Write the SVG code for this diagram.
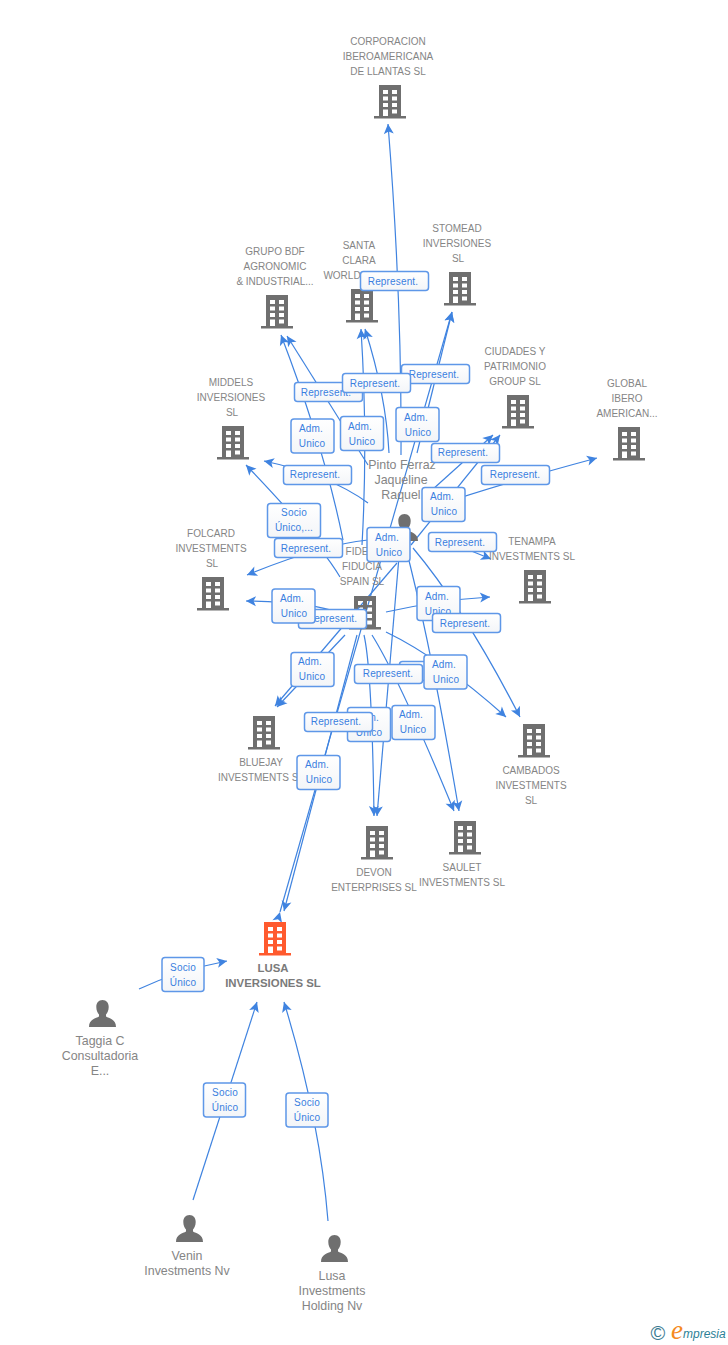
<svg xmlns="http://www.w3.org/2000/svg" width="728" height="1345" viewBox="0 0 728 1345">
<style>
.n{font-family:"Liberation Sans",Arial,sans-serif;font-size:10px;fill:#858585;text-anchor:middle}
.p{font-size:12.400px}
.b{font-family:"Liberation Sans",Arial,sans-serif;font-size:11.400px;font-weight:bold;fill:#7a7a7a;text-anchor:middle}
.c{fill:none;stroke:#3f83e0;stroke-width:1.2;marker-end:url(#ah)}
.r{fill:url(#lg);stroke:#5e97e8;stroke-width:1.5}
.t{font-family:"Liberation Sans",Arial,sans-serif;font-size:10px;letter-spacing:.15px;fill:#3a7fe0;text-anchor:middle}
</style>
<defs>
<marker id="ah" markerUnits="userSpaceOnUse" markerWidth="12" markerHeight="12" refX="10" refY="5" orient="auto" overflow="visible"><path d="M10,5 L0,0 L2.5,5 L0,10 Z" fill="#3f83e0"/></marker>
<linearGradient id="lg" x1="0" y1="0" x2="0" y2="1"><stop offset="0" stop-color="#fff"/><stop offset="1" stop-color="#f3f5f8"/></linearGradient>
<g id="bd"><path fill-rule="evenodd" d="M5,0H27V31H32V33.5H0V31H5ZM9,5V9H14V5ZM18,5V9H23V5ZM9,11.500V15.500H14V11.500ZM18,11.500V15.500H23V11.500ZM9,18V22H14V18ZM18,18V22H23V18ZM9,24.500V31H14V24.500ZM18,24.500V28.500H23V24.500Z"/></g>
<g id="pr"><path d="M13.500,0C17.500,0 19.700,3 19.700,7C19.700,10.500 18.300,13 17,14.500V16.500C20,18.500 27,19 27,27H0C0,19 7,18.500 10,16.500V14.500C8.700,13 7.300,10.500 7.300,7C7.300,3 9.500,0 13.500,0Z"/></g>
</defs>
<rect width="728" height="1345" fill="#fff"/>
<g id="connectors">
<path class="c" d="M401,455Q402,300 388,124"/>
<path class="c" d="M343,540Q325,450 281,335"/>
<path class="c" d="M368,465L287,336"/>
<path class="c" d="M362,545Q368,440 361,329"/>
<path class="c" d="M389,453Q386,395 365,329"/>
<path class="c" d="M280,912L452,312" style="marker-start:url(#ah)"/>
<path class="c" d="M417,453L452,312"/>
<path class="c" d="M357,635L284,911"/>
<path class="c" d="M411,545L500,435"/>
<path class="c" d="M432,490L493,435"/>
<path class="c" d="M432,507Q500,484 597,458"/>
<path class="c" d="M340,577Q318,540 246,465"/>
<path class="c" d="M368,503Q330,475 264,461"/>
<path class="c" d="M368,540Q320,545 247,575"/>
<path class="c" d="M340,613Q310,602 246,601"/>
<path class="c" d="M345,635L277,707"/>
<path class="c" d="M397,563L275,706"/>
<path class="c" d="M364,635Q372,670 374,816"/>
<path class="c" d="M400,545L377,816"/>
<path class="c" d="M372,635Q400,680 454,811"/>
<path class="c" d="M405,545Q430,640 459,811"/>
<path class="c" d="M386,612Q440,600 490,597"/>
<path class="c" d="M432,535L491,559"/>
<path class="c" d="M386,632Q440,658 506,717"/>
<path class="c" d="M413,548Q465,610 520,717"/>
<path class="c" d="M139,989Q180,970 227,961"/>
<path class="c" d="M193,1200L257,1002"/>
<path class="c" d="M328,1221Q320,1120 284,1002"/>
</g>
<g id="node-corporacion"><use href="#bd" x="374" y="85" fill="#6f6f6f"/><text class="n"><tspan x="388" y="45">CORPORACION</tspan><tspan x="388" y="60">IBEROAMERICANA</tspan><tspan x="388" y="75">DE LLANTAS SL</tspan></text></g>
<g id="node-grupo"><use href="#bd" x="261" y="295" fill="#6f6f6f"/><text class="n"><tspan x="275" y="255">GRUPO BDF</tspan><tspan x="275" y="270">AGRONOMIC</tspan><tspan x="275" y="285">&amp; INDUSTRIAL...</tspan></text></g>
<g id="node-santa"><use href="#bd" x="346" y="289" fill="#6f6f6f"/><text class="n"><tspan x="359" y="249">SANTA</tspan><tspan x="359" y="264">CLARA</tspan><tspan x="342" y="279">WORLD</tspan></text></g>
<g id="node-stomead"><use href="#bd" x="444" y="272" fill="#6f6f6f"/><text class="n"><tspan x="457" y="232">STOMEAD</tspan><tspan x="457" y="247">INVERSIONES</tspan><tspan x="458" y="262">SL</tspan></text></g>
<g id="node-middels"><use href="#bd" x="217" y="426" fill="#6f6f6f"/><text class="n"><tspan x="231" y="386">MIDDELS</tspan><tspan x="231" y="401">INVERSIONES</tspan><tspan x="232" y="416">SL</tspan></text></g>
<g id="node-ciudades"><use href="#bd" x="502" y="395" fill="#6f6f6f"/><text class="n"><tspan x="515" y="355">CIUDADES Y</tspan><tspan x="515" y="370">PATRIMONIO</tspan><tspan x="515" y="385">GROUP SL</tspan></text></g>
<g id="node-global"><use href="#bd" x="613" y="427" fill="#6f6f6f"/><text class="n"><tspan x="627" y="387">GLOBAL</tspan><tspan x="627" y="402">IBERO</tspan><tspan x="627" y="417">AMERICAN...</tspan></text></g>
<g id="node-tenampa"><use href="#bd" x="519" y="570" fill="#6f6f6f"/><text class="n"><tspan x="532" y="545">TENAMPA</tspan><tspan x="532" y="560">INVESTMENTS SL</tspan></text></g>
<g id="node-folcard"><use href="#bd" x="197" y="577" fill="#6f6f6f"/><text class="n"><tspan x="211" y="537">FOLCARD</tspan><tspan x="211" y="552">INVESTMENTS</tspan><tspan x="212" y="567">SL</tspan></text></g>
<g id="node-fiducia"><use href="#bd" x="349" y="596" fill="#6f6f6f"/><text class="n"><tspan x="357" y="555">FIDE</tspan><tspan x="362" y="570">FIDUCIA</tspan><tspan x="362" y="585">SPAIN SL</tspan></text></g>
<g id="node-bluejay"><use href="#bd" x="248" y="716" fill="#6f6f6f"/><text class="n"><tspan x="261" y="766">BLUEJAY</tspan><tspan x="261" y="781">INVESTMENTS SL</tspan></text></g>
<g id="node-devon"><use href="#bd" x="361" y="826" fill="#6f6f6f"/><text class="n"><tspan x="374" y="876">DEVON</tspan><tspan x="374" y="891">ENTERPRISES SL</tspan></text></g>
<g id="node-saulet"><use href="#bd" x="449" y="821" fill="#6f6f6f"/><text class="n"><tspan x="462" y="871">SAULET</tspan><tspan x="462" y="886">INVESTMENTS SL</tspan></text></g>
<g id="node-cambados"><use href="#bd" x="518" y="724" fill="#6f6f6f"/><text class="n"><tspan x="531" y="774">CAMBADOS</tspan><tspan x="531" y="789">INVESTMENTS</tspan><tspan x="531" y="804">SL</tspan></text></g>
<g id="node-lusa"><use href="#bd" x="259" y="922" fill="#ff5a2e"/><text class="b"><tspan x="273" y="972">LUSA</tspan><tspan x="273" y="987">INVERSIONES SL</tspan></text></g>
<g id="node-pinto"><use href="#pr" x="391" y="514" fill="#6f6f6f"/><text class="n p"><tspan x="402" y="469">Pinto Ferraz</tspan><tspan x="401" y="484">Jaqueline</tspan><tspan x="401" y="499">Raquel</tspan></text></g>
<g id="node-taggia"><use href="#pr" x="89" y="1000" fill="#6f6f6f"/><text class="n p"><tspan x="100" y="1045">Taggia C</tspan><tspan x="100" y="1060">Consultadoria</tspan><tspan x="100" y="1075">E...</tspan></text></g>
<g id="node-venin"><use href="#pr" x="176" y="1215" fill="#6f6f6f"/><text class="n p"><tspan x="187" y="1260">Venin</tspan><tspan x="187" y="1275">Investments Nv</tspan></text></g>
<g id="node-lusa-investments"><use href="#pr" x="321" y="1235" fill="#6f6f6f"/><text class="n p"><tspan x="332" y="1280">Lusa</tspan><tspan x="332" y="1295">Investments</tspan><tspan x="332" y="1310">Holding Nv</tspan></text></g>
<g id="edge-labels">
<g><rect class="r" x="294.500" y="382.500" width="68" height="19" rx="3"/><text class="t" x="326" y="396">Represent.</text></g>
<g><rect class="r" x="401.500" y="364.500" width="68" height="19" rx="3"/><text class="t" x="434" y="378">Represent.</text></g>
<g><rect class="r" x="360.500" y="271.500" width="68" height="19" rx="3"/><text class="t" x="393" y="285">Represent.</text></g>
<g><rect class="r" x="342.500" y="373.500" width="68" height="19" rx="3"/><text class="t" x="375" y="387">Represent.</text></g>
<g><rect class="r" x="291" y="419" width="43" height="34" rx="3"/><text class="t"><tspan x="311" y="432">Adm.</tspan><tspan x="312" y="447">Unico</tspan></text></g>
<g><rect class="r" x="340.500" y="416.500" width="43" height="34" rx="3"/><text class="t"><tspan x="360" y="430">Adm.</tspan><tspan x="362" y="445">Unico</tspan></text></g>
<g><rect class="r" x="396" y="407.500" width="43" height="34" rx="3"/><text class="t"><tspan x="416" y="421">Adm.</tspan><tspan x="418" y="436">Unico</tspan></text></g>
<g><rect class="r" x="431.500" y="443.500" width="68" height="19" rx="3"/><text class="t" x="463" y="456">Represent.</text></g>
<g><rect class="r" x="422" y="487.500" width="43" height="34" rx="3"/><text class="t"><tspan x="442" y="500">Adm.</tspan><tspan x="444" y="515">Unico</tspan></text></g>
<g><rect class="r" x="481.500" y="465.500" width="68" height="19" rx="3"/><text class="t" x="515" y="478">Represent.</text></g>
<g><rect class="r" x="283.500" y="465.500" width="68" height="19" rx="3"/><text class="t" x="315" y="478">Represent.</text></g>
<g><rect class="r" x="267.500" y="503.500" width="53" height="34" rx="3"/><text class="t"><tspan x="294" y="516">Socio</tspan><tspan x="294" y="531">Único,...</tspan></text></g>
<g><rect class="r" x="274.500" y="538.500" width="68" height="19" rx="3"/><text class="t" x="306" y="552">Represent.</text></g>
<g><rect class="r" x="367" y="527.500" width="43" height="34" rx="3"/><text class="t"><tspan x="387" y="541">Adm.</tspan><tspan x="389" y="556">Unico</tspan></text></g>
<g><rect class="r" x="428.500" y="532.500" width="68" height="19" rx="3"/><text class="t" x="460" y="546">Represent.</text></g>
<g><rect class="r" x="298.500" y="609.500" width="68" height="19" rx="3"/><text class="t" x="332" y="622">Represent.</text></g>
<g><rect class="r" x="272" y="589" width="43" height="34" rx="3"/><text class="t"><tspan x="292" y="602">Adm.</tspan><tspan x="294" y="617">Unico</tspan></text></g>
<g><rect class="r" x="417" y="586.500" width="43" height="34" rx="3"/><text class="t"><tspan x="437" y="600">Adm.</tspan><tspan x="438" y="615">Unico</tspan></text></g>
<g><rect class="r" x="432.500" y="613.500" width="68" height="19" rx="3"/><text class="t" x="465" y="627">Represent.</text></g>
<g><rect class="r" x="291" y="652.500" width="43" height="34" rx="3"/><text class="t"><tspan x="310" y="665">Adm.</tspan><tspan x="312" y="680">Unico</tspan></text></g>
<g><rect class="r" x="399.500" y="661.500" width="44" height="19" rx="3"/></g>
<g><rect class="r" x="424" y="655" width="43" height="34" rx="3"/><text class="t"><tspan x="444" y="668">Adm.</tspan><tspan x="446" y="683">Unico</tspan></text></g>
<g><rect class="r" x="354.500" y="664.500" width="68" height="19" rx="3"/><text class="t" x="388" y="677">Represent.</text></g>
<g><rect class="r" x="347.500" y="707.500" width="43" height="34" rx="3"/><text class="t"><tspan x="367" y="721">Adm.</tspan><tspan x="369" y="736">Unico</tspan></text></g>
<g><rect class="r" x="304.500" y="712.500" width="68" height="19" rx="3"/><text class="t" x="336" y="725">Represent.</text></g>
<g><rect class="r" x="392" y="705.500" width="43" height="34" rx="3"/><text class="t"><tspan x="411" y="718">Adm.</tspan><tspan x="413" y="733">Unico</tspan></text></g>
<g><rect class="r" x="297" y="755.500" width="43" height="34" rx="3"/><text class="t"><tspan x="317" y="768">Adm.</tspan><tspan x="319" y="783">Unico</tspan></text></g>
<g><rect class="r" x="162" y="957.500" width="42" height="34" rx="3"/><text class="t"><tspan x="183" y="971">Socio</tspan><tspan x="183" y="986">Único</tspan></text></g>
<g><rect class="r" x="203.500" y="1083" width="42" height="34" rx="3"/><text class="t"><tspan x="225" y="1096">Socio</tspan><tspan x="225" y="1111">Único</tspan></text></g>
<g><rect class="r" x="286" y="1093" width="42" height="34" rx="3"/><text class="t"><tspan x="307" y="1106">Socio</tspan><tspan x="307" y="1121">Único</tspan></text></g>
</g>
<g id="logo">
<text x="650.500" y="1340" font-family="'Liberation Sans',sans-serif" font-size="20" fill="#3b7b92">©</text>
<text x="671" y="1339" font-family="'Liberation Serif',serif" font-style="italic" font-size="27" fill="#f58a1f">e</text>
<text x="683" y="1338" font-family="'Liberation Sans',sans-serif" font-style="italic" font-size="12" fill="#2d7f96">mpresia</text>
</g>
</svg>
